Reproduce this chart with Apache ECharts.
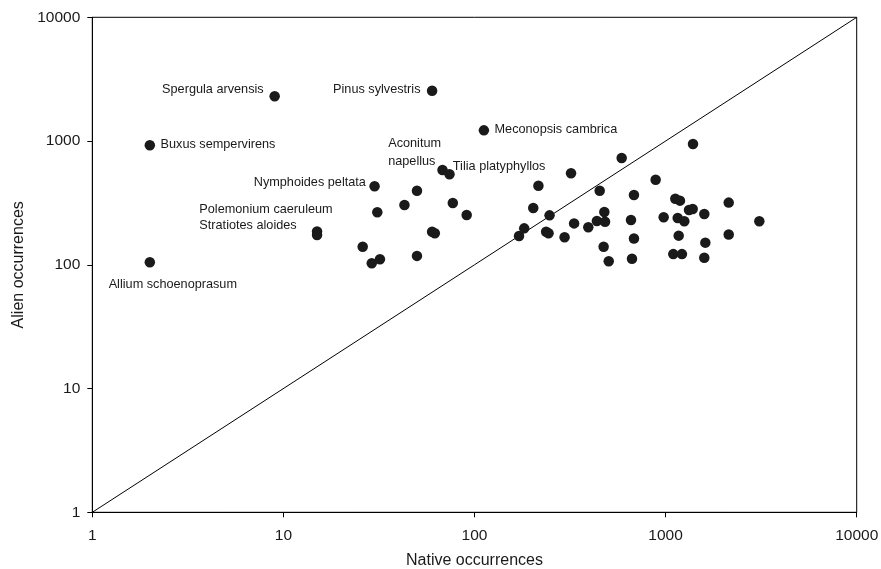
<!DOCTYPE html>
<html>
<head>
<meta charset="utf-8">
<script src="https://cdn.jsdelivr.net/npm/echarts@6/dist/echarts.min.js"></script>
<style>
  html, body { margin: 0; padding: 0; background: #fff; }
  #chart { width: 881px; height: 569px; }
</style>
</head>
<body>
<div id="chart"></div>
<script>
// native (x) and alien (y) occurrences per species
const nativeOcc = [
    9, 2, 2, 60, 112, 68, 74, 30, 50, 43, 77, 91, 31, 15, 15, 60, 62, 26, 29, 32, 50,
    216, 203, 589, 1391, 320, 887, 452, 683, 247, 182, 171, 237, 244, 296, 332, 394,
    437, 482, 478, 474, 504, 659, 683, 667, 977, 1124, 1189, 1157, 1253, 1326, 1386,
    1171, 1097, 1218, 1594, 1614, 1594, 2139, 2139, 3093
];
const alienOcc = [
    2300, 924, 105, 2550, 1220, 584, 539, 431, 397, 304, 316, 253, 266, 186, 174, 185, 180, 140, 103, 111, 118,
    436, 288, 730, 946, 549, 487, 397, 366, 251, 197, 171, 185, 180, 167, 216, 201,
    226, 223, 267, 140, 107, 230, 163, 112, 242, 342, 330, 239, 225, 277, 282,
    172, 122, 122, 257, 151, 114, 318, 176, 225
];
const speciesNames = [
    'Spergula arvensis', 'Buxus sempervirens', 'Allium schoenoprasum', 'Pinus sylvestris',
    'Meconopsis cambrica', 'Aconitum\nnapellus', 'Tilia platyphyllos', 'Nymphoides peltata',
    '', '', '', '', '', 'Polemonium caeruleum', 'Stratiotes aloides'
];
const tickLabels = ['1', '10', '100', '1000', '10000'];
const diagonal = [[1, 1], [10000, 10000]];

// label placement: [dx, dy from dot centre, align]
const labelPlace = {
    'Spergula arvensis': [-11, -7, 'right'],
    'Buxus sempervirens': [10.7, -1.3, 'left'],
    'Allium schoenoprasum': [23, 22.7, 'center'],
    'Pinus sylvestris': [-11.6, -1.4, 'right'],
    'Meconopsis cambrica': [10.6, -1.3, 'left'],
    'Aconitum\nnapellus': [-54.3, -17.8, 'left'],
    'Tilia platyphyllos': [3.3, -7.6, 'left'],
    'Nymphoides peltata': [-8.7, -3.6, 'right'],
    'Polemonium caeruleum': [-117.7, -22.4, 'left'],
    'Stratiotes aloides': [-117.7, -9.3, 'left']
};

const FONT = 'Liberation Sans, Arial, sans-serif';
const TXT = '#1a1a1a';
const R = 5.25;

const points = nativeOcc.map((x, i) => {
    let name = speciesNames[i] || '';
    let item = { value: [x, alienOcc[i]] };
    if (name) {
        let p = labelPlace[name];
        item.label = {
            show: true,
            formatter: name,
            position: [p[0] + R, p[1] + R],
            align: p[2],
            verticalAlign: 'middle',
            fontSize: 12.7,
            lineHeight: 17.7,
            fontFamily: FONT,
            color: TXT
        };
    }
    return item;
});

// log axis labels: 10^k printed without separators
function tickText(v) {
    let k = Math.round(Math.log10(v));
    return tickLabels[k] !== undefined ? tickLabels[k] : String(v);
}

const chart = echarts.init(document.getElementById('chart'), null, { renderer: 'canvas' });

const logAxis = (name, gap, margin) => ({
    type: 'log',
    logBase: 10,
    min: 1,
    max: 10000,
    name: name,
    nameLocation: 'middle',
    nameGap: gap,
    nameTextStyle: { fontSize: 16, fontFamily: FONT, color: TXT },
    axisLine: { show: true, onZero: false, lineStyle: { color: '#000', width: 1 } },
    axisTick: { show: true, inside: false, length: 5, lineStyle: { color: '#000' } },
    minorTick: { show: false },
    splitLine: { show: false },
    axisLabel: { fontSize: 15.5, fontFamily: FONT, color: TXT, margin: margin, formatter: tickText }
});

chart.setOption({
    animation: false,
    backgroundColor: '#fff',
    grid: {
        left: 92.3, right: 24.3, top: 17.3, bottom: 56.7,
        outerBoundsMode: 'none',
        containLabel: false,
        show: true, borderColor: '#000', borderWidth: 1, backgroundColor: 'transparent'
    },
    xAxis: logAxis('Native occurrences', 40, 15),
    yAxis: logAxis('Alien occurrences', 64, 12),
    series: [
        {
            type: 'line',
            data: diagonal,
            symbol: 'none',
            silent: true,
            lineStyle: { color: '#000', width: 1 },
            z: 1
        },
        {
            type: 'scatter',
            data: points,
            symbol: 'circle',
            symbolSize: 2 * R,
            itemStyle: { color: '#1a1a1a', opacity: 1 },
            labelLayout: { hideOverlap: false },
            z: 2
        }
    ]
});
</script>
</body>
</html>
